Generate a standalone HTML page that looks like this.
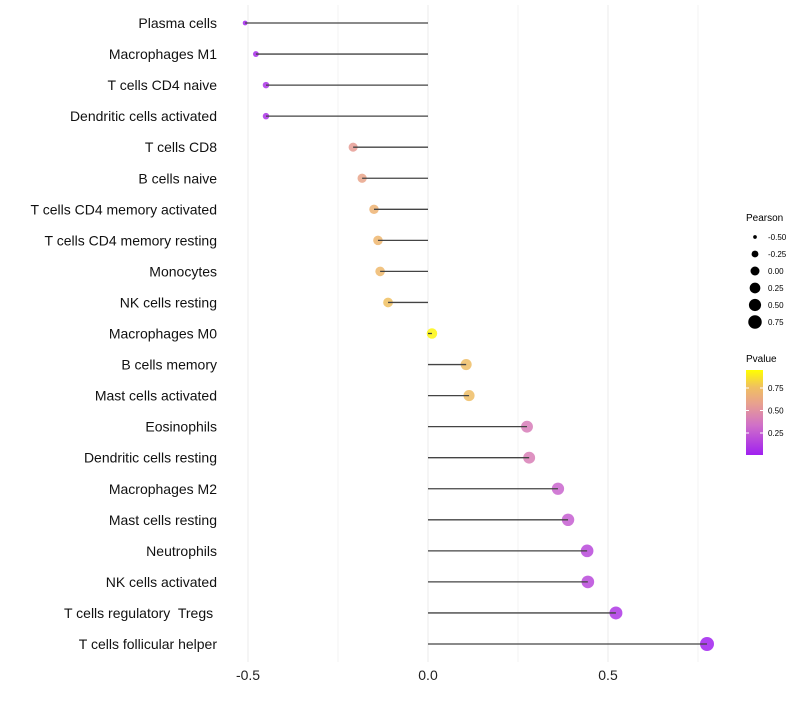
<!DOCTYPE html>
<html><head><meta charset="utf-8"><style>
body{margin:0;background:#fff;font-family:"Liberation Sans",sans-serif}
text{white-space:pre}
</style></head><body>
<svg id="chart" width="800" height="700" xmlns="http://www.w3.org/2000/svg">
<defs><linearGradient id="pg" x1="0" y1="1" x2="0" y2="0">
<stop offset="0" stop-color="#a020f0"/><stop offset="0.35" stop-color="#d070c8"/>
<stop offset="0.6" stop-color="#e8a090"/><stop offset="0.8" stop-color="#f0c060"/><stop offset="1" stop-color="#ffff00"/>
</linearGradient></defs>
<g id="grid"></g><g id="marks"></g><g id="labels"></g>
<g>
<text x="746" y="221" font-size="10">Pearson</text>
<g id="sizeleg"></g>
<text x="746" y="362" font-size="10">Pvalue</text>
<rect x="746" y="370" width="17" height="85" fill="url(#pg)"/>
<g id="colleg"></g>
</g>
</svg>
<script>
const categories=["Plasma cells","Macrophages M1","T cells CD4 naive","Dendritic cells activated","T cells CD8","B cells naive","T cells CD4 memory activated","T cells CD4 memory resting","Monocytes","NK cells resting","Macrophages M0","B cells memory","Mast cells activated","Eosinophils","Dendritic cells resting","Macrophages M2","Mast cells resting","Neutrophils","NK cells activated","T cells regulatory  Tregs ","T cells follicular helper"];
const pearson=[-0.508,-0.478,-0.45,-0.45,-0.208,-0.183,-0.15,-0.139,-0.133,-0.111,0.011,0.106,0.114,0.275,0.281,0.361,0.389,0.442,0.444,0.522,0.775];
const pvalue=[0.02,0.05,0.08,0.08,0.58,0.63,0.72,0.74,0.75,0.8,0.97,0.78,0.78,0.42,0.43,0.3,0.27,0.18,0.18,0.1,0.01];
const xTicks=[-0.5,0,0.5];
const sizeTicks=[-0.5,-0.25,0,0.25,0.5,0.75];
const colTicks=[0.25,0.5,0.75];
const NS="http://www.w3.org/2000/svg";
const x=v=>428+v*360;
const y=i=>23+i*31.05;
const r=v=>2.2+4.8*Math.sqrt(Math.max(0,(v+0.51)/1.29));
const rl=v=>Math.sqrt(Math.max(0,(v+0.6)))*5.8;
const stops=[[0,[160,32,240]],[0.35,[208,112,200]],[0.6,[232,160,144]],[0.8,[240,192,96]],[1,[255,255,0]]];
function col(p){for(let k=1;k<stops.length;k++){if(p<=stops[k][0]){const a=stops[k-1],b=stops[k],t=(p-a[0])/(b[0]-a[0]);return 'rgb('+a[1].map((c,j)=>Math.round(c+(b[1][j]-c)*t)).join(',')+')';}}return 'rgb(255,255,0)';}
function el(t,a,p){const e=document.createElementNS(NS,t);for(const k in a)e.setAttribute(k,a[k]);p.appendChild(e);return e;}
const grid=document.getElementById('grid'),marks=document.getElementById('marks'),labels=document.getElementById('labels');
[-0.5,-0.25,0,0.25,0.5,0.75].forEach(v=>{const g=el('line',{x1:x(v),x2:x(v),y1:5,y2:662,stroke:'#ebebeb','stroke-width':v%0.5==0?1:0.6},grid);

});
xTicks.forEach(v=>{const t=el('text',{x:x(v),y:680,'font-size':14,'text-anchor':'middle',fill:'#222'},labels);t.textContent=v.toFixed(1);

});
categories.forEach((c,i)=>{
const t=el('text',{x:217,y:y(i)+5,'font-size':14,'text-anchor':'end',fill:'#111'},labels);t.textContent=c;


const d=el('circle',{cx:x(pearson[i]),cy:y(i),r:r(pearson[i]),fill:col(pvalue[i]),'fill-opacity':0.85},marks);


const l=el('line',{x1:x(0),x2:x(pearson[i]),y1:y(i),y2:y(i),stroke:'#444','stroke-width':1.3},marks);


});
const sl=document.getElementById('sizeleg');
sizeTicks.forEach((v,k)=>{const cy=237+k*17;
const c=el('circle',{cx:755,cy:cy,r:rl(v),fill:'#000'},sl);


const t=el('text',{x:768,y:cy+3,'font-size':8},sl);t.textContent=v.toFixed(2);

});
const cl=document.getElementById('colleg');
colTicks.forEach(v=>{const cy=455.5-v*90;
const t=el('text',{x:768,y:cy+3,'font-size':8},cl);t.textContent=v.toFixed(2);


el('line',{x1:746,x2:749,y1:cy,y2:cy,stroke:'#fff'},cl);el('line',{x1:760,x2:763,y1:cy,y2:cy,stroke:'#fff'},cl);});
</script>
</body></html>
